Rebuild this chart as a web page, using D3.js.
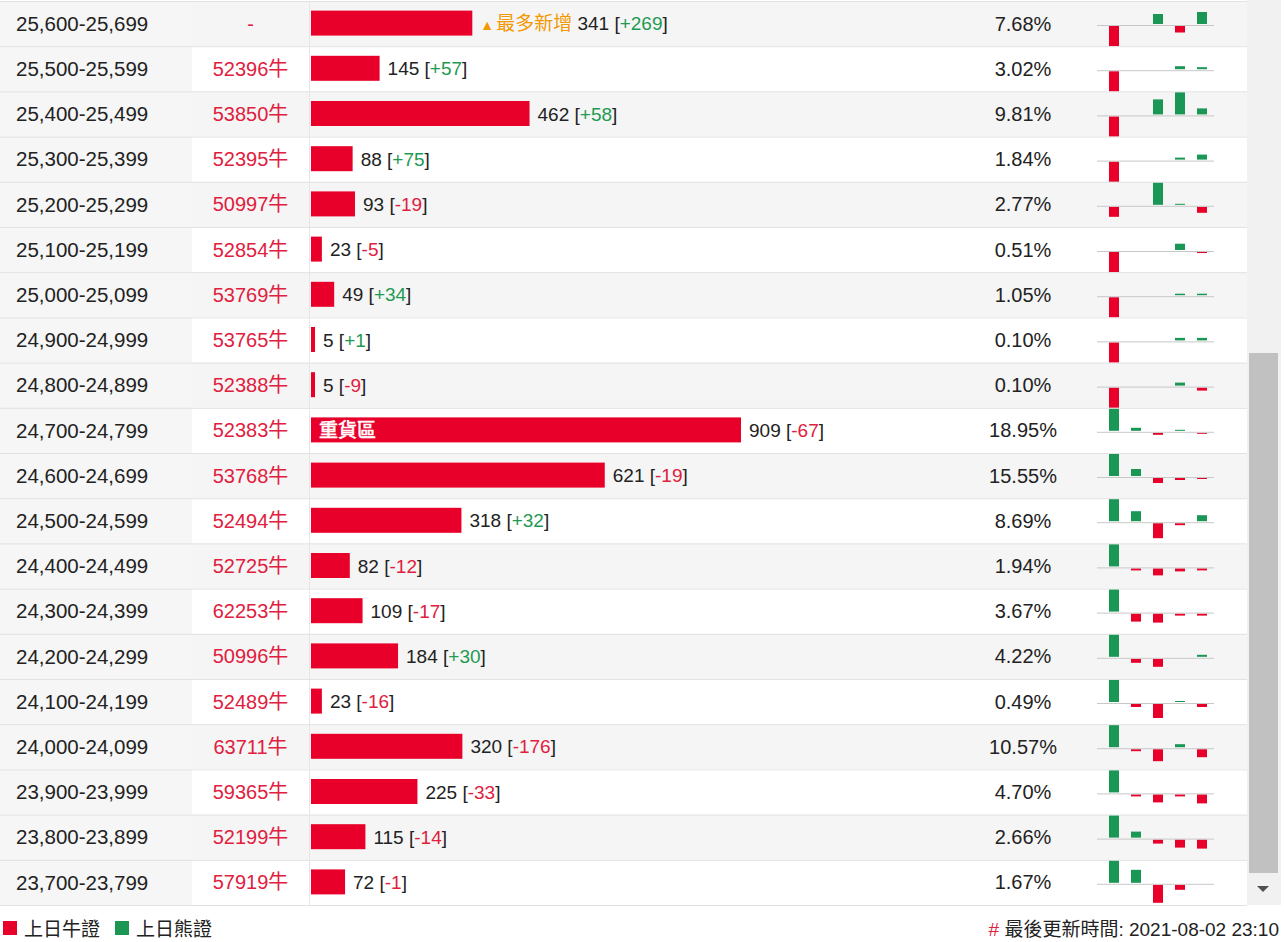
<!DOCTYPE html>
<html>
<head>
<meta charset="utf-8">
<script src="https://cdn.jsdelivr.net/npm/d3@7"></script>
<style>
  body { margin: 0; background: #fff; }
  svg { display: block; font-family: "Liberation Sans", Arial, "Noto Sans CJK TC", sans-serif; }
</style>
</head>
<body>
<script>
// strike ranges (rows, top to bottom)
var ranges = ["25,600-25,699", "25,500-25,599", "25,400-25,499", "25,300-25,399", "25,200-25,299",
    "25,100-25,199", "25,000-25,099", "24,900-24,999", "24,800-24,899", "24,700-24,799",
    "24,600-24,699", "24,500-24,599", "24,400-24,499", "24,300-24,399", "24,200-24,299",
    "24,100-24,199", "24,000-24,099", "23,900-23,999", "23,800-23,899", "23,700-23,799"];

// most traded code in each range ("-" = none)
var codes = ["-", "52396", "53850", "52395", "50997", "52854", "53769", "53765", "52388", "52383",
    "53768", "52494", "52725", "62253", "50996", "52489", "63711", "59365", "52199", "57919"];

// outstanding contracts and change vs previous day
var counts = [341, 145, 462, 88, 93, 23, 49, 5, 5, 909, 621, 318, 82, 109, 184, 23, 320, 225, 115, 72];
var changes = [269, 57, 58, 75, -19, -5, 34, 1, -9, -67, -19, 32, -12, -17, 30, -16, -176, -33, -14, -1];

// share of total
var pcts = ["7.68%", "3.02%", "9.81%", "1.84%", "2.77%", "0.51%", "1.05%", "0.10%", "0.10%", "18.95%",
    "15.55%", "8.69%", "1.94%", "3.67%", "4.22%", "0.49%", "10.57%", "4.70%", "2.66%", "1.67%"];

var trends = [
    [-22, 0, 10, -6.5, 12],
    [-22, 0, 0, 3, 2],
    [-21, 0, 15, 22, 6],
    [-22, 0, 0, 2, 5],
    [-10, 0, 22, 1, -6],
    [-21, 0, 0, 6, -1],
    [-22, 0, 0, 1.5, 1.5],
    [-22, 0, 0, 2.5, 2.5],
    [-22, 0, 0, 3, -3],
    [22, 3, -2, 1, -1],
    [22, 7, -5, -2, -1],
    [22, 10, -15, -2, 6],
    [22, -2, -7, -3, -2],
    [22, -8, -9, -2, -2],
    [22, -4, -8, 0, 2],
    [22, -3, -14, 1, -3],
    [22, -2, -12, 3, -8],
    [22, -2, -8, -2, -9],
    [22, 6, -4, -8, -9],
    [22, 13, -18, -5, 0]
];

var hotRow = 9;     // 重貨區
var topNewRow = 0;  // 最多新增

var red = "#e8002a",
    green = "#1a9655",
    textRed = "#e0203e",
    textGreen = "#1f9a52";

var width = 1284,
    height = 942,
    tableW = 1247;

var svg = d3.select("body")
    .append("svg")
    .attr("width", width)
    .attr("height", height);

var rowIdx = d3.range(ranges.length);

var y = d3.scaleBand()
    .domain(rowIdx)
    .range([1, 905]);

var x = d3.scaleLinear()
    .domain([0, 909])
    .range([0, 430]);

var sx = d3.scalePoint()
    .domain(d3.range(5))
    .range([1114, 1202]);

var rows = svg.selectAll(".row")
    .data(rowIdx)
    .enter()
    .append("g")
    .attr("class", "row")
    .attr("transform", function (i) { return "translate(0," + y(i) + ")"; });

var rh = y.bandwidth();

//row backgrounds, first column always grey
rows.append("rect")
    .attr("width", tableW)
    .attr("height", rh)
    .attr("fill", function (i) { return i % 2 === 0 ? "#f5f5f5" : "#fff"; });

rows.append("rect")
    .attr("width", 192)
    .attr("height", rh)
    .attr("fill", "#f6f6f6");

//row lines
rows.append("line")
    .attr("x1", 0).attr("x2", tableW)
    .attr("y1", 0.5).attr("y2", 0.5)
    .attr("stroke", "#e2e2e2");

svg.append("line")
    .attr("x1", 0).attr("x2", tableW)
    .attr("y1", 905.5).attr("y2", 905.5)
    .attr("stroke", "#e2e2e2");

//column separator
svg.append("line")
    .attr("x1", 309.5).attr("x2", 309.5)
    .attr("y1", 1).attr("y2", 905)
    .attr("stroke", "#e6e6e6");

var mid = rh / 2;

//range labels
rows.append("text")
    .attr("x", 16)
    .attr("y", mid)
    .attr("dy", "0.35em")
    .attr("font-size", 20.5)
    .attr("fill", "#222")
    .text(function (i) { return ranges[i]; });

//codes
rows.append("text")
    .attr("x", 250.5)
    .attr("y", mid)
    .attr("dy", "0.35em")
    .attr("text-anchor", "middle")
    .attr("font-size", 20)
    .attr("fill", textRed)
    .text(function (i) { return codes[i] === "-" ? "-" : codes[i] + "牛"; });

//count bars
rows.append("rect")
    .attr("x", 311)
    .attr("y", mid - 13)
    .attr("width", function (i) { return Math.max(4, x(counts[i])); })
    .attr("height", 25)
    .attr("fill", red);

rows.filter(function (i) { return i === hotRow; })
    .append("text")
    .attr("x", 319)
    .attr("y", mid - 0.5)
    .attr("dy", "0.35em")
    .attr("font-size", 19)
    .attr("fill", "#fff")
    .attr("stroke", "#fff")
    .attr("stroke-width", 0.6)
    .text("重貨區");

//count labels
var lbl = rows.append("text")
    .attr("x", function (i) { return 311 + Math.max(4, x(counts[i])) + 8; })
    .attr("y", mid)
    .attr("dy", "0.35em")
    .attr("font-size", 19)
    .attr("fill", "#222");

lbl.filter(function (i) { return i === topNewRow; })
    .append("tspan")
    .attr("fill", "#f39800")
    .attr("font-size", 14)
    .text("▲");

lbl.filter(function (i) { return i === topNewRow; })
    .append("tspan")
    .attr("fill", "#f39800")
    .attr("dx", 2)
    .text("最多新增 ");

lbl.append("tspan").text(function (i) { return counts[i] + " ["; });
lbl.append("tspan")
    .attr("fill", function (i) { return changes[i] >= 0 ? textGreen : textRed; })
    .text(function (i) { return (changes[i] >= 0 ? "+" : "") + changes[i]; });
lbl.append("tspan").text("]");

//percentages
rows.append("text")
    .attr("x", 1023)
    .attr("y", mid)
    .attr("dy", "0.35em")
    .attr("text-anchor", "middle")
    .attr("font-size", 20)
    .attr("fill", "#222")
    .text(function (i) { return pcts[i]; });

//sparklines
rows.each(function (i) {
    var g = d3.select(this);
    var base = 24;
    var m = d3.max(trends[i], function (v) { return Math.abs(v); });
    var sy = d3.scaleLinear().domain([-m, m]).range([base + 22, base - 22]);

    g.selectAll(".spark")
        .data(trends[i])
        .enter()
        .append("rect")
        .attr("class", "spark")
        .attr("x", function (v, j) { return sx(j) - 5; })
        .attr("y", function (v) { return v >= 0 ? sy(v) - 1 : sy(0) + 1; })
        .attr("width", 10)
        .attr("height", function (v) { return Math.abs(sy(v) - sy(0)); })
        .attr("fill", function (v) { return v >= 0 ? green : red; });

    g.append("line")
        .attr("x1", 1097).attr("x2", 1214)
        .attr("y1", base + 0.5).attr("y2", base + 0.5)
        .attr("stroke", "#c8c8c8");
});

//scrollbar
svg.append("rect")
    .attr("x", 1247).attr("y", 0)
    .attr("width", 34).attr("height", 905)
    .attr("fill", "#f1f1f1");
svg.append("rect")
    .attr("x", 1249).attr("y", 353)
    .attr("width", 29).attr("height", 520)
    .attr("fill", "#c1c1c1");
svg.append("path")
    .attr("d", "M1257,886L1269,886L1263,892Z")
    .attr("fill", "#505050");

//legend
var legend = [["上日牛證", red, 3], ["上日熊證", green, 115]];
var lg = svg.selectAll(".legend")
    .data(legend)
    .enter()
    .append("g")
    .attr("class", "legend");

lg.append("rect")
    .attr("x", function (d) { return d[2]; })
    .attr("y", 921)
    .attr("width", 14).attr("height", 14)
    .attr("fill", function (d) { return d[1]; });

lg.append("text")
    .attr("x", function (d) { return d[2] + 21; })
    .attr("y", 929)
    .attr("dy", "0.35em")
    .attr("font-size", 19)
    .attr("fill", "#222")
    .text(function (d) { return d[0]; });

//update time
var upd = svg.append("text")
    .attr("x", 1279)
    .attr("y", 929)
    .attr("dy", "0.35em")
    .attr("text-anchor", "end")
    .attr("font-size", 19)
    .attr("fill", "#222");
upd.append("tspan").attr("fill", textRed).text("# ");
upd.append("tspan").text("最後更新時間: 2021-08-02 23:10");
</script>
</body>
</html>
